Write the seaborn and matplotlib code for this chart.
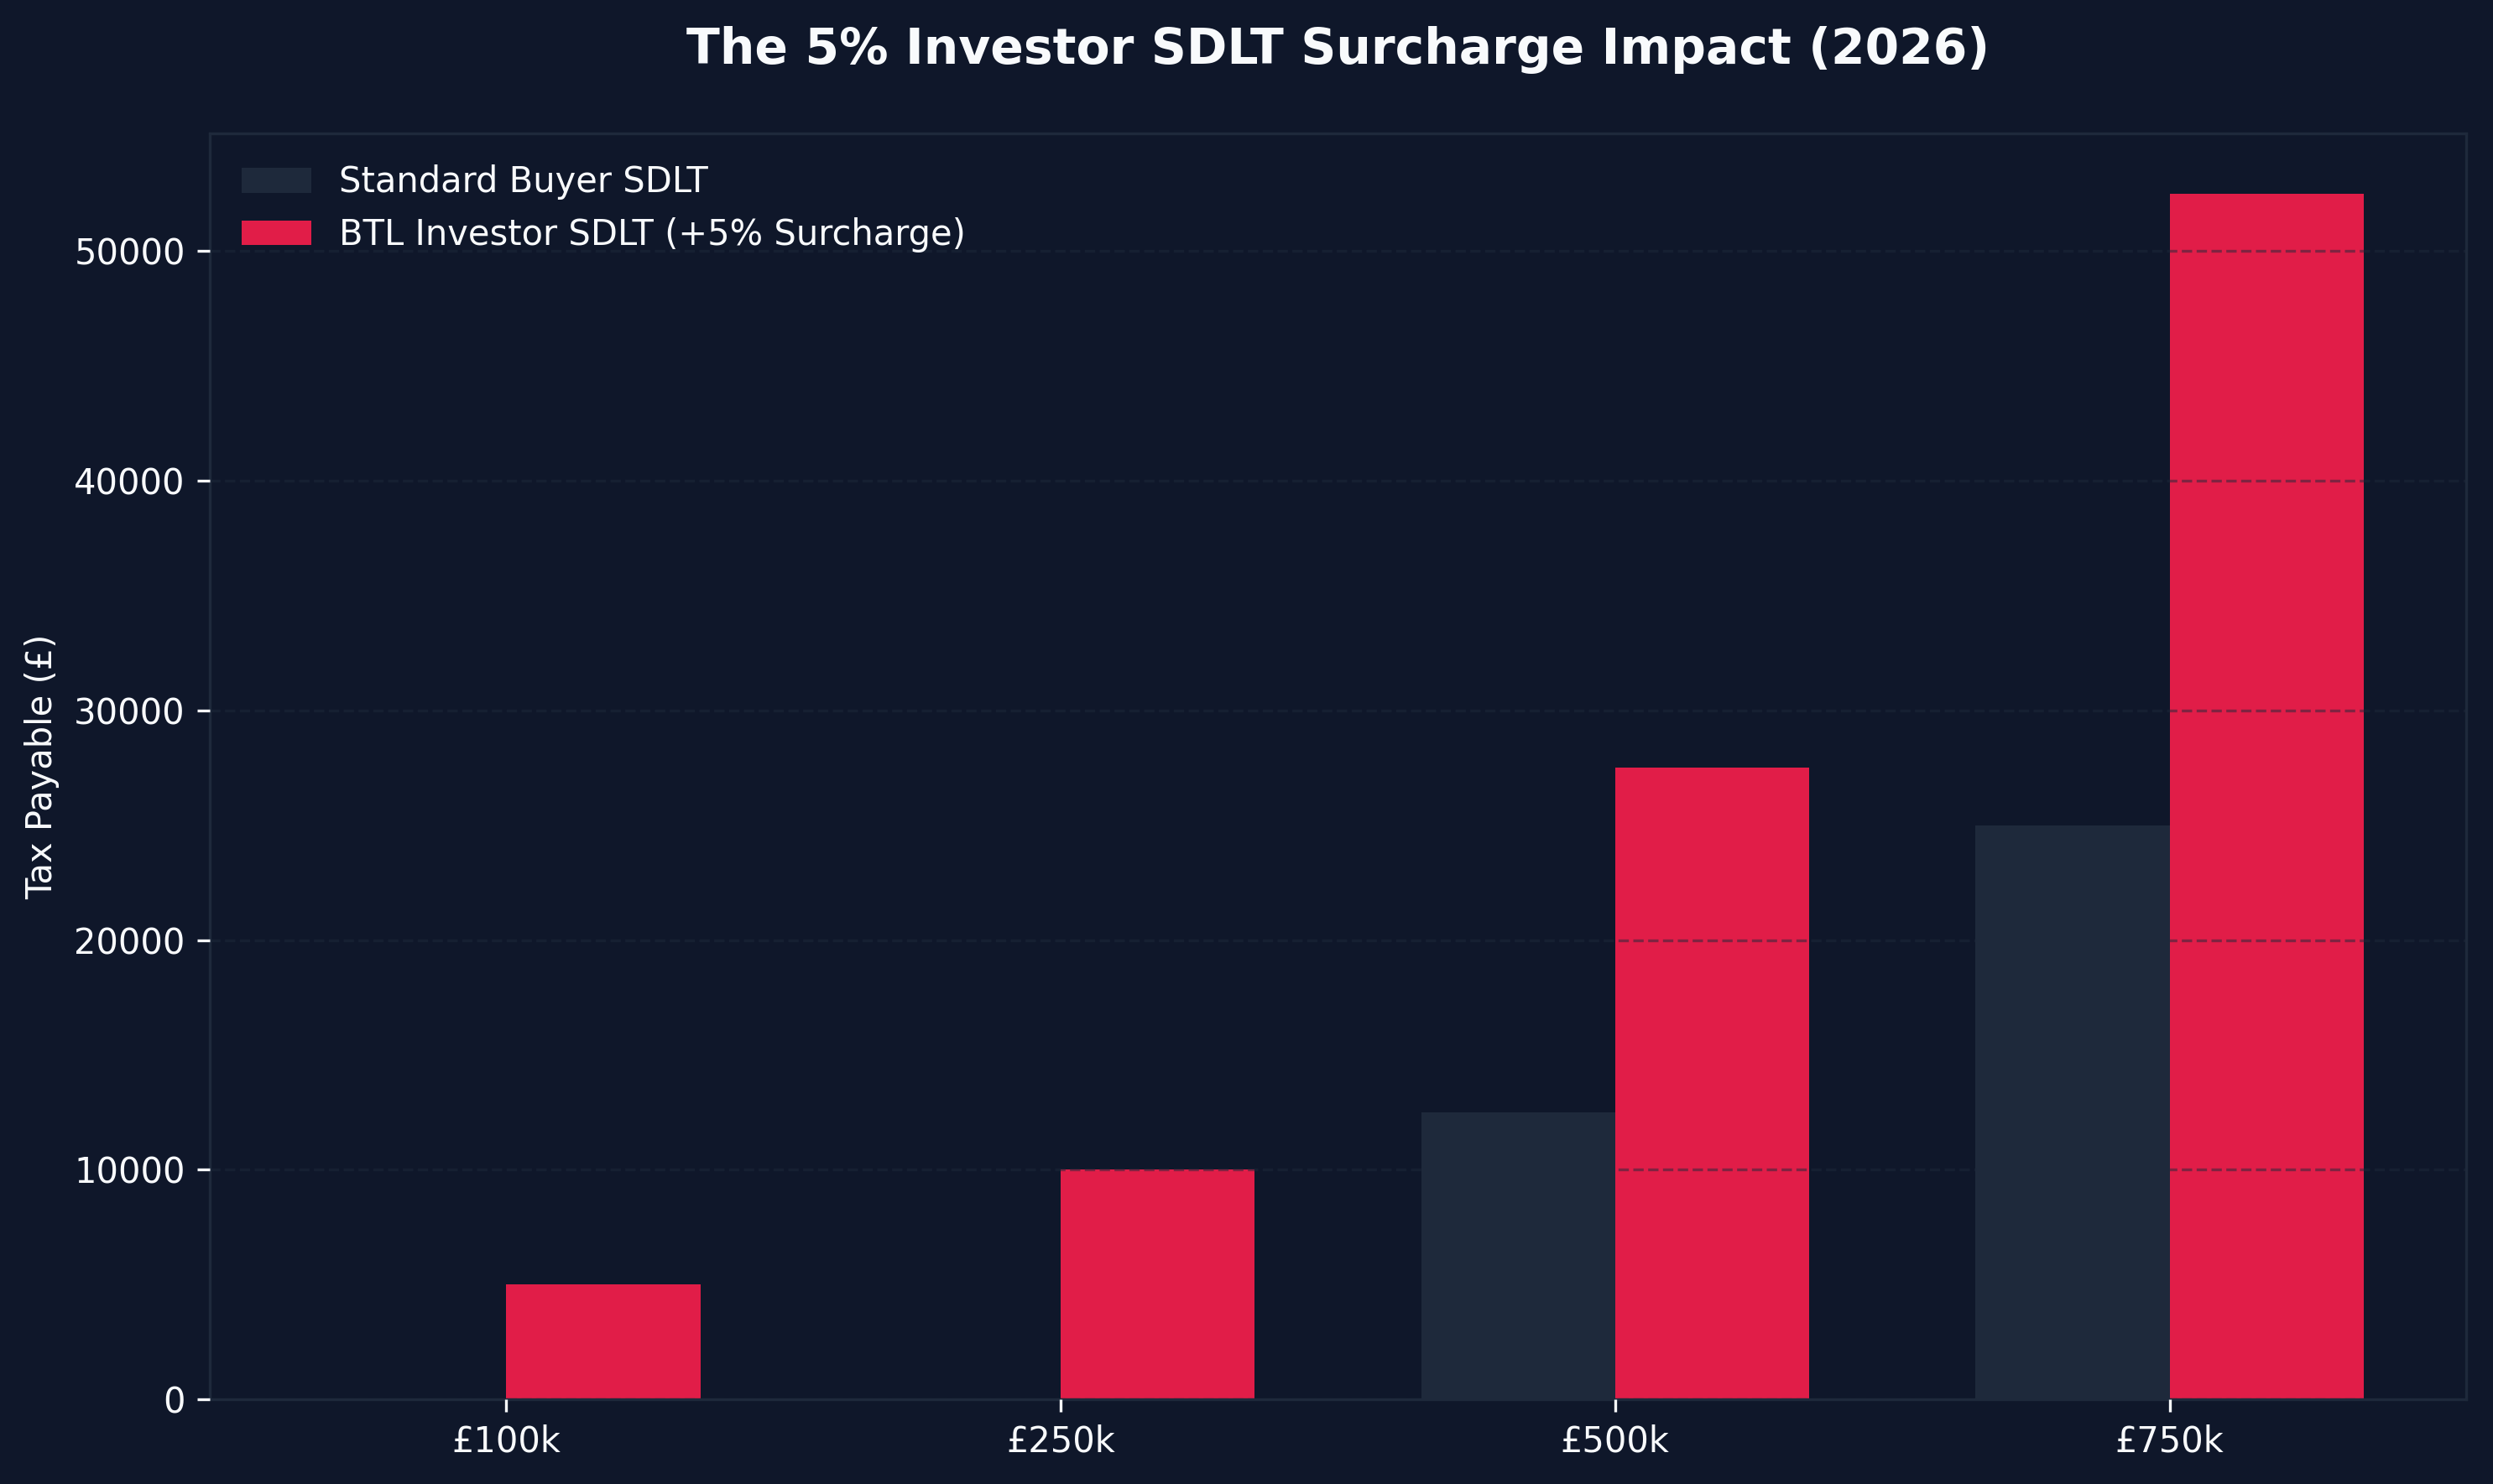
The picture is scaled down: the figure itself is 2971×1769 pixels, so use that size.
import pandas as pd
import matplotlib
matplotlib.use("Agg")
import matplotlib.pyplot as plt
import seaborn as sns

# data
price_labels = ['£100k', '£250k', '£500k', '£750k']
standard_sdlt = [0, 0, 12500, 25000]
investor_sdlt = [5000, 10000, 27500, 52500]
series_names = ['Standard Buyer SDLT', 'BTL Investor SDLT (+5% Surcharge)']

BG = '#0f172a'
DARK = '#1e293b'
RED = '#e11d48'
TXT = '#f8fafc'

df = pd.DataFrame({
    'price': price_labels * 2,
    'tax': standard_sdlt + investor_sdlt,
    'buyer': [series_names[0]] * 4 + [series_names[1]] * 4,
})

plt.rcParams['font.family'] = ['DejaVu Sans']

fig, ax = plt.subplots(figsize=(2971 / 300, 1769 / 300), dpi=300)
fig.patch.set_facecolor(BG)
ax.set_facecolor(BG)

sns.barplot(data=df, x='price', y='tax', hue='buyer', hue_order=series_names,
            palette=[DARK, RED], width=0.7, saturation=1, linewidth=0,
            errorbar=None, ax=ax)

ax.set_xlim(-0.535, 3.535)
ax.set_xlabel('')
ax.set_ylabel('Tax Payable (£)', color=TXT, fontsize=10)
ax.set_title('The 5% Investor SDLT Surcharge Impact (2026)', color=TXT,
             fontsize=14, fontweight='bold', pad=20)

# grid over the bars, like the original
ax.set_axisbelow(False)
ax.yaxis.grid(True, linestyle='--', color=DARK, alpha=0.5, linewidth=0.8)
ax.xaxis.grid(False)

for s in ax.spines.values():
    s.set_color(DARK)
    s.set_linewidth(0.8)
ax.tick_params(colors=TXT, labelsize=10)

handles, labels = ax.get_legend_handles_labels()
ax.legend(handles, labels, loc='upper left', frameon=False, fontsize=10,
          labelcolor=TXT, title=None)

fig.subplots_adjust(left=250 / 2971, right=2939 / 2971,
                    top=1 - 159 / 1769, bottom=1 - 1668 / 1769)
fig.savefig('out.png', dpi=300, facecolor=BG)
